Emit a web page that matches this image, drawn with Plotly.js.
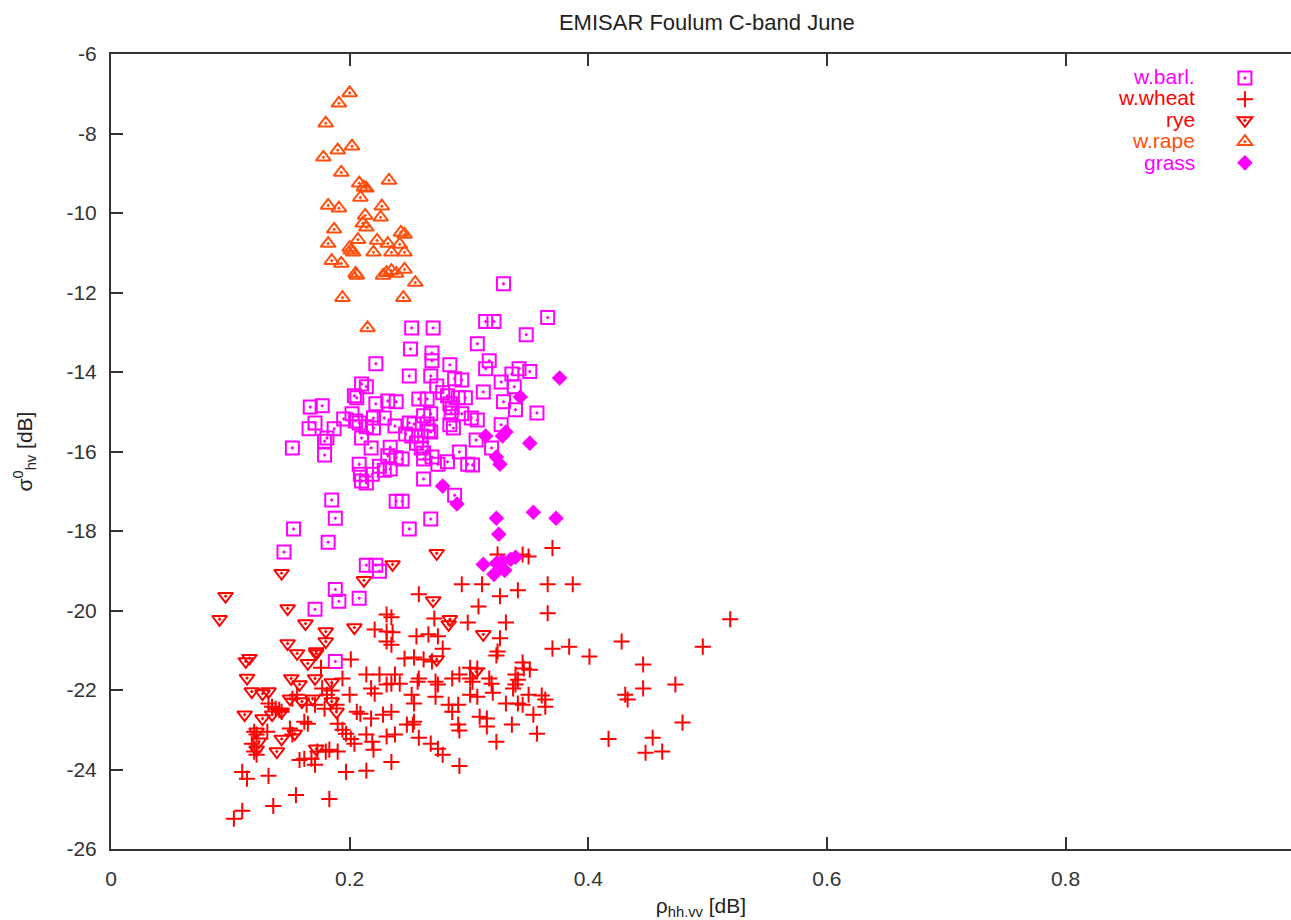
<!DOCTYPE html>
<html>
<head>
<meta charset="utf-8">
<script src="https://cdn.plot.ly/plotly-3.0.1.min.js"></script>
<style>html,body{margin:0;padding:0;background:#fff;}#chart{width:1291px;height:920px;}</style>
</head>
<body>
<div id="chart"></div>
<script>
// ---- Data ----
var seriesNames = ['w.barl.', 'w.wheat', 'rye', 'w.rape', 'grass'];

var barlX = [0.329,0.314,0.321,0.366,0.252,0.270,0.348,0.307,0.251,0.269,0.269,0.317,0.284,0.314,0.250,0.268,0.336,0.342,0.351,0.288,0.294,0.327,0.338,0.273,0.278,0.282,0.312,0.258,0.265,0.291,0.297,0.284,0.329,0.339,0.357,0.268,0.262,0.286,0.285,0.294,0.302,0.307,0.250,0.254,0.265,0.266,0.284,0.287,0.327,0.247,0.252,0.260,0.268,0.306,0.256,0.260,0.262,0.319,0.292,0.262,0.269,0.274,0.282,0.299,0.303,0.244,0.262,0.288,0.244,0.268,0.250,0.222,0.210,0.214,0.204,0.206,0.167,0.177,0.222,0.232,0.239,0.171,0.166,0.195,0.202,0.205,0.208,0.214,0.220,0.229,0.238,0.187,0.181,0.179,0.210,0.220,0.152,0.218,0.234,0.179,0.232,0.239,0.208,0.225,0.229,0.234,0.209,0.210,0.214,0.219,0.185,0.239,0.188,0.153,0.145,0.182,0.171,0.214,0.222,0.225,0.188,0.191,0.208,0.188];
var barlY = [-11.78,-12.73,-12.73,-12.63,-12.89,-12.89,-13.06,-13.29,-13.42,-13.52,-13.72,-13.72,-13.82,-13.92,-14.10,-14.10,-14.05,-13.92,-13.99,-14.17,-14.20,-14.25,-14.37,-14.35,-14.52,-14.60,-14.50,-14.68,-14.68,-14.65,-14.65,-14.80,-14.75,-14.95,-15.03,-15.05,-15.10,-14.90,-15.03,-15.05,-15.16,-15.21,-15.28,-15.31,-15.31,-15.48,-15.33,-15.41,-15.33,-15.56,-15.61,-15.61,-15.51,-15.71,-15.79,-15.91,-16.04,-15.91,-16.01,-16.19,-16.14,-16.32,-16.26,-16.32,-16.34,-16.19,-16.69,-17.10,-17.25,-17.70,-17.95,-13.79,-14.30,-14.37,-14.60,-14.65,-14.88,-14.85,-14.80,-14.73,-14.75,-15.28,-15.43,-15.18,-15.05,-15.23,-15.28,-15.38,-15.16,-15.16,-15.36,-15.43,-15.66,-15.74,-15.66,-15.41,-15.91,-15.91,-15.89,-16.09,-16.11,-16.16,-16.32,-16.37,-16.47,-16.44,-16.57,-16.74,-16.79,-16.57,-17.22,-17.25,-17.68,-17.95,-18.53,-18.28,-19.97,-18.86,-18.86,-19.01,-19.47,-19.77,-19.69,-21.28];

var wheatX = [0.370,0.324,0.345,0.350,0.294,0.311,0.366,0.387,0.341,0.326,0.258,0.308,0.366,0.519,0.271,0.299,0.331,0.256,0.266,0.274,0.326,0.428,0.496,0.370,0.384,0.278,0.324,0.323,0.401,0.246,0.254,0.262,0.269,0.446,0.301,0.307,0.345,0.346,0.351,0.292,0.286,0.301,0.303,0.317,0.319,0.339,0.341,0.339,0.337,0.242,0.257,0.258,0.272,0.274,0.473,0.446,0.431,0.433,0.301,0.307,0.320,0.350,0.361,0.364,0.252,0.254,0.272,0.331,0.341,0.345,0.283,0.291,0.286,0.364,0.354,0.479,0.248,0.253,0.309,0.315,0.315,0.291,0.292,0.336,0.357,0.323,0.417,0.454,0.258,0.268,0.274,0.278,0.448,0.462,0.292,0.231,0.235,0.221,0.231,0.236,0.231,0.235,0.201,0.176,0.194,0.214,0.225,0.238,0.177,0.181,0.185,0.200,0.218,0.221,0.231,0.235,0.132,0.135,0.138,0.141,0.143,0.152,0.156,0.164,0.171,0.179,0.189,0.206,0.209,0.218,0.228,0.235,0.254,0.190,0.194,0.197,0.201,0.204,0.214,0.219,0.220,0.231,0.238,0.120,0.122,0.131,0.118,0.120,0.122,0.150,0.152,0.162,0.165,0.158,0.162,0.168,0.173,0.180,0.183,0.190,0.171,0.235,0.197,0.214,0.110,0.114,0.132,0.155,0.183,0.136,0.110,0.103];
var wheatY = [-18.43,-18.59,-18.59,-18.64,-19.34,-19.34,-19.34,-19.34,-19.49,-19.64,-19.59,-19.90,-20.07,-20.22,-20.20,-20.30,-20.30,-20.65,-20.60,-20.65,-20.70,-20.78,-20.91,-20.96,-20.91,-20.96,-21.03,-21.13,-21.16,-21.21,-21.18,-21.23,-21.28,-21.36,-21.44,-21.46,-21.31,-21.46,-21.49,-21.61,-21.71,-21.71,-21.79,-21.71,-21.84,-21.61,-21.74,-21.86,-21.96,-21.84,-21.79,-21.71,-21.79,-21.86,-21.86,-21.96,-22.12,-22.24,-22.12,-22.17,-22.07,-22.12,-22.14,-22.24,-22.12,-22.34,-22.17,-22.34,-22.34,-22.37,-22.37,-22.37,-22.55,-22.42,-22.62,-22.82,-22.87,-22.87,-22.67,-22.72,-22.92,-22.87,-23.02,-22.87,-23.10,-23.30,-23.23,-23.20,-23.20,-23.35,-23.48,-23.63,-23.58,-23.55,-23.91,-20.10,-20.17,-20.48,-20.53,-20.55,-20.78,-20.86,-21.23,-21.44,-21.71,-21.61,-21.61,-21.61,-21.96,-22.12,-22.01,-22.12,-21.96,-22.09,-21.86,-21.84,-22.34,-22.42,-22.47,-22.50,-22.55,-22.22,-22.12,-22.37,-22.37,-22.47,-22.37,-22.55,-22.60,-22.72,-22.62,-22.55,-22.80,-22.85,-23.00,-23.10,-23.23,-23.35,-23.12,-23.30,-23.50,-23.17,-23.12,-23.05,-23.12,-23.05,-23.35,-23.55,-23.63,-22.97,-23.12,-22.80,-22.85,-23.76,-23.73,-23.73,-23.55,-23.55,-23.50,-23.55,-23.88,-23.81,-24.06,-24.03,-24.06,-24.23,-24.16,-24.64,-24.74,-24.92,-25.04,-25.24];

var ryeX = [0.096,0.091,0.116,0.113,0.114,0.118,0.112,0.143,0.148,0.163,0.180,0.148,0.156,0.172,0.236,0.212,0.204,0.180,0.165,0.172,0.151,0.158,0.171,0.185,0.127,0.132,0.150,0.160,0.169,0.185,0.189,0.127,0.135,0.143,0.122,0.124,0.122,0.143,0.154,0.139,0.172,0.273,0.270,0.284,0.283,0.312,0.273,0.306];
var ryeY = [-19.64,-20.22,-21.20,-21.28,-21.70,-22.04,-22.62,-19.06,-19.95,-20.33,-20.53,-20.83,-21.08,-21.08,-18.84,-19.24,-20.43,-20.78,-21.33,-21.03,-21.71,-21.86,-21.71,-21.81,-22.09,-22.04,-22.22,-22.29,-22.22,-22.29,-22.55,-22.72,-22.62,-22.55,-23.05,-23.30,-23.50,-23.23,-23.10,-23.55,-23.48,-18.56,-19.75,-20.22,-20.35,-20.60,-21.23,-21.54];

var rapeX = [0.200,0.191,0.180,0.190,0.202,0.178,0.193,0.208,0.212,0.214,0.233,0.209,0.182,0.191,0.227,0.226,0.213,0.211,0.214,0.187,0.243,0.246,0.182,0.207,0.223,0.232,0.242,0.200,0.201,0.203,0.220,0.235,0.246,0.185,0.193,0.205,0.206,0.228,0.231,0.235,0.239,0.246,0.255,0.194,0.245,0.215];
var rapeY = [-6.98,-7.24,-7.74,-8.42,-8.32,-8.60,-8.98,-9.25,-9.35,-9.38,-9.18,-9.61,-9.81,-9.88,-9.83,-10.11,-10.06,-10.26,-10.36,-10.41,-10.49,-10.54,-10.77,-10.67,-10.69,-10.77,-10.79,-10.87,-10.94,-10.99,-10.99,-10.99,-10.99,-11.20,-11.27,-11.52,-11.57,-11.57,-11.50,-11.45,-11.52,-11.42,-11.75,-12.13,-12.13,-12.89];

var grassX = [0.376,0.343,0.314,0.331,0.328,0.351,0.323,0.326,0.278,0.290,0.354,0.373,0.323,0.325,0.312,0.323,0.328,0.335,0.339,0.321,0.330];
var grassY = [-14.15,-14.63,-15.61,-15.51,-15.61,-15.79,-16.14,-16.32,-16.87,-17.32,-17.53,-17.68,-17.68,-18.08,-18.84,-18.81,-18.76,-18.71,-18.66,-19.09,-18.99];

var xTickVals = [0, 0.2, 0.4, 0.6, 0.8];
var xTickText = ['0', '0.2', '0.4', '0.6', '0.8'];
var yTickVals = [-26, -24, -22, -20, -18, -16, -14, -12, -10, -8, -6];
var yTickText = ['-26', '-24', '-22', '-20', '-18', '-16', '-14', '-12', '-10', '-8', '-6'];

// ---- Styles ----
var MAGENTA = '#ff00ff', RED = '#ff0000', ORANGE = '#ff4f0f';
var FONT = 'Liberation Sans, Arial, Helvetica, sans-serif';

var traces = [
  {x: barlX, y: barlY, type: 'scatter', mode: 'markers', name: '',
   marker: {symbol: 'square-open-dot', size: 13, color: MAGENTA, line: {color: MAGENTA, width: 2}}},
  {x: wheatX, y: wheatY, type: 'scatter', mode: 'markers', name: '',
   marker: {symbol: 'cross-thin-open', size: 11.5, color: RED, line: {color: RED, width: 2}}},
  {x: ryeX, y: ryeY, type: 'scatter', mode: 'markers', name: '',
   marker: {symbol: 'triangle-down-open-dot', size: 13, color: RED, line: {color: RED, width: 2}}},
  {x: rapeX, y: rapeY, type: 'scatter', mode: 'markers', name: '',
   marker: {symbol: 'triangle-up-open-dot', size: 13, color: ORANGE, line: {color: ORANGE, width: 2}}},
  {x: grassX, y: grassY, type: 'scatter', mode: 'markers', name: '',
   marker: {symbol: 'diamond', size: 12, color: MAGENTA, line: {width: 0}}}
];

var legendColors = [MAGENTA, RED, RED, ORANGE, MAGENTA];
var legendY = [0.9711, 0.9447, 0.9182, 0.8906, 0.8629];
var annotations = seriesNames.map(function (n, i) {
  return {text: n, xref: 'paper', yref: 'paper', x: 0.9203, y: legendY[i],
          xanchor: 'right', yanchor: 'middle', showarrow: false,
          font: {family: FONT, size: 21, color: legendColors[i]}};
});

var axisCommon = {
  showgrid: false, zeroline: false, showline: true, linecolor: '#333', linewidth: 2,
  ticks: 'inside', ticklen: 12, tickwidth: 2, tickcolor: '#333',
  tickfont: {family: FONT, size: 21, color: '#333'}
};

var layout = {
  width: 1291, height: 920,
  margin: {l: 111, r: 0, t: 54, b: 71, pad: 0},
  paper_bgcolor: '#ffffff', plot_bgcolor: '#ffffff',
  font: {family: FONT, size: 21, color: '#222'},
  title: {text: 'EMISAR Foulum C-band June', xref: 'paper', x: 0.505, xanchor: 'center',
          yref: 'container', y: 0.976, yanchor: 'middle', font: {family: FONT, size: 22, color: '#222'}},
  xaxis: Object.assign({}, axisCommon, {
    range: [0, 0.989], tickvals: xTickVals, ticktext: xTickText, mirror: 'ticks',
    ticklabelstandoff: 10,
    title: {text: 'ρ<sub>hh.vv</sub> [dB]', standoff: 10, font: {family: FONT, size: 21, color: '#222'}}
  }),
  yaxis: Object.assign({}, axisCommon, {
    range: [-26, -6], tickvals: yTickVals, ticktext: yTickText,
    ticklabelstandoff: 8,
    title: {text: 'σ<sup>0</sup><sub>hv</sub> [dB]', standoff: 28, font: {family: FONT, size: 21, color: '#222'}}
  }),
  showlegend: true,
  legend: {x: 0.944, xanchor: 'left', y: 0.9894, yanchor: 'top', bgcolor: 'rgba(0,0,0,0)',
           borderwidth: 0, font: {family: FONT, size: 14}, itemwidth: 30, tracegroupgap: 0},
  annotations: annotations
};

Plotly.newPlot('chart', traces, layout, {displayModeBar: false, staticPlot: true});
</script>
</body>
</html>
